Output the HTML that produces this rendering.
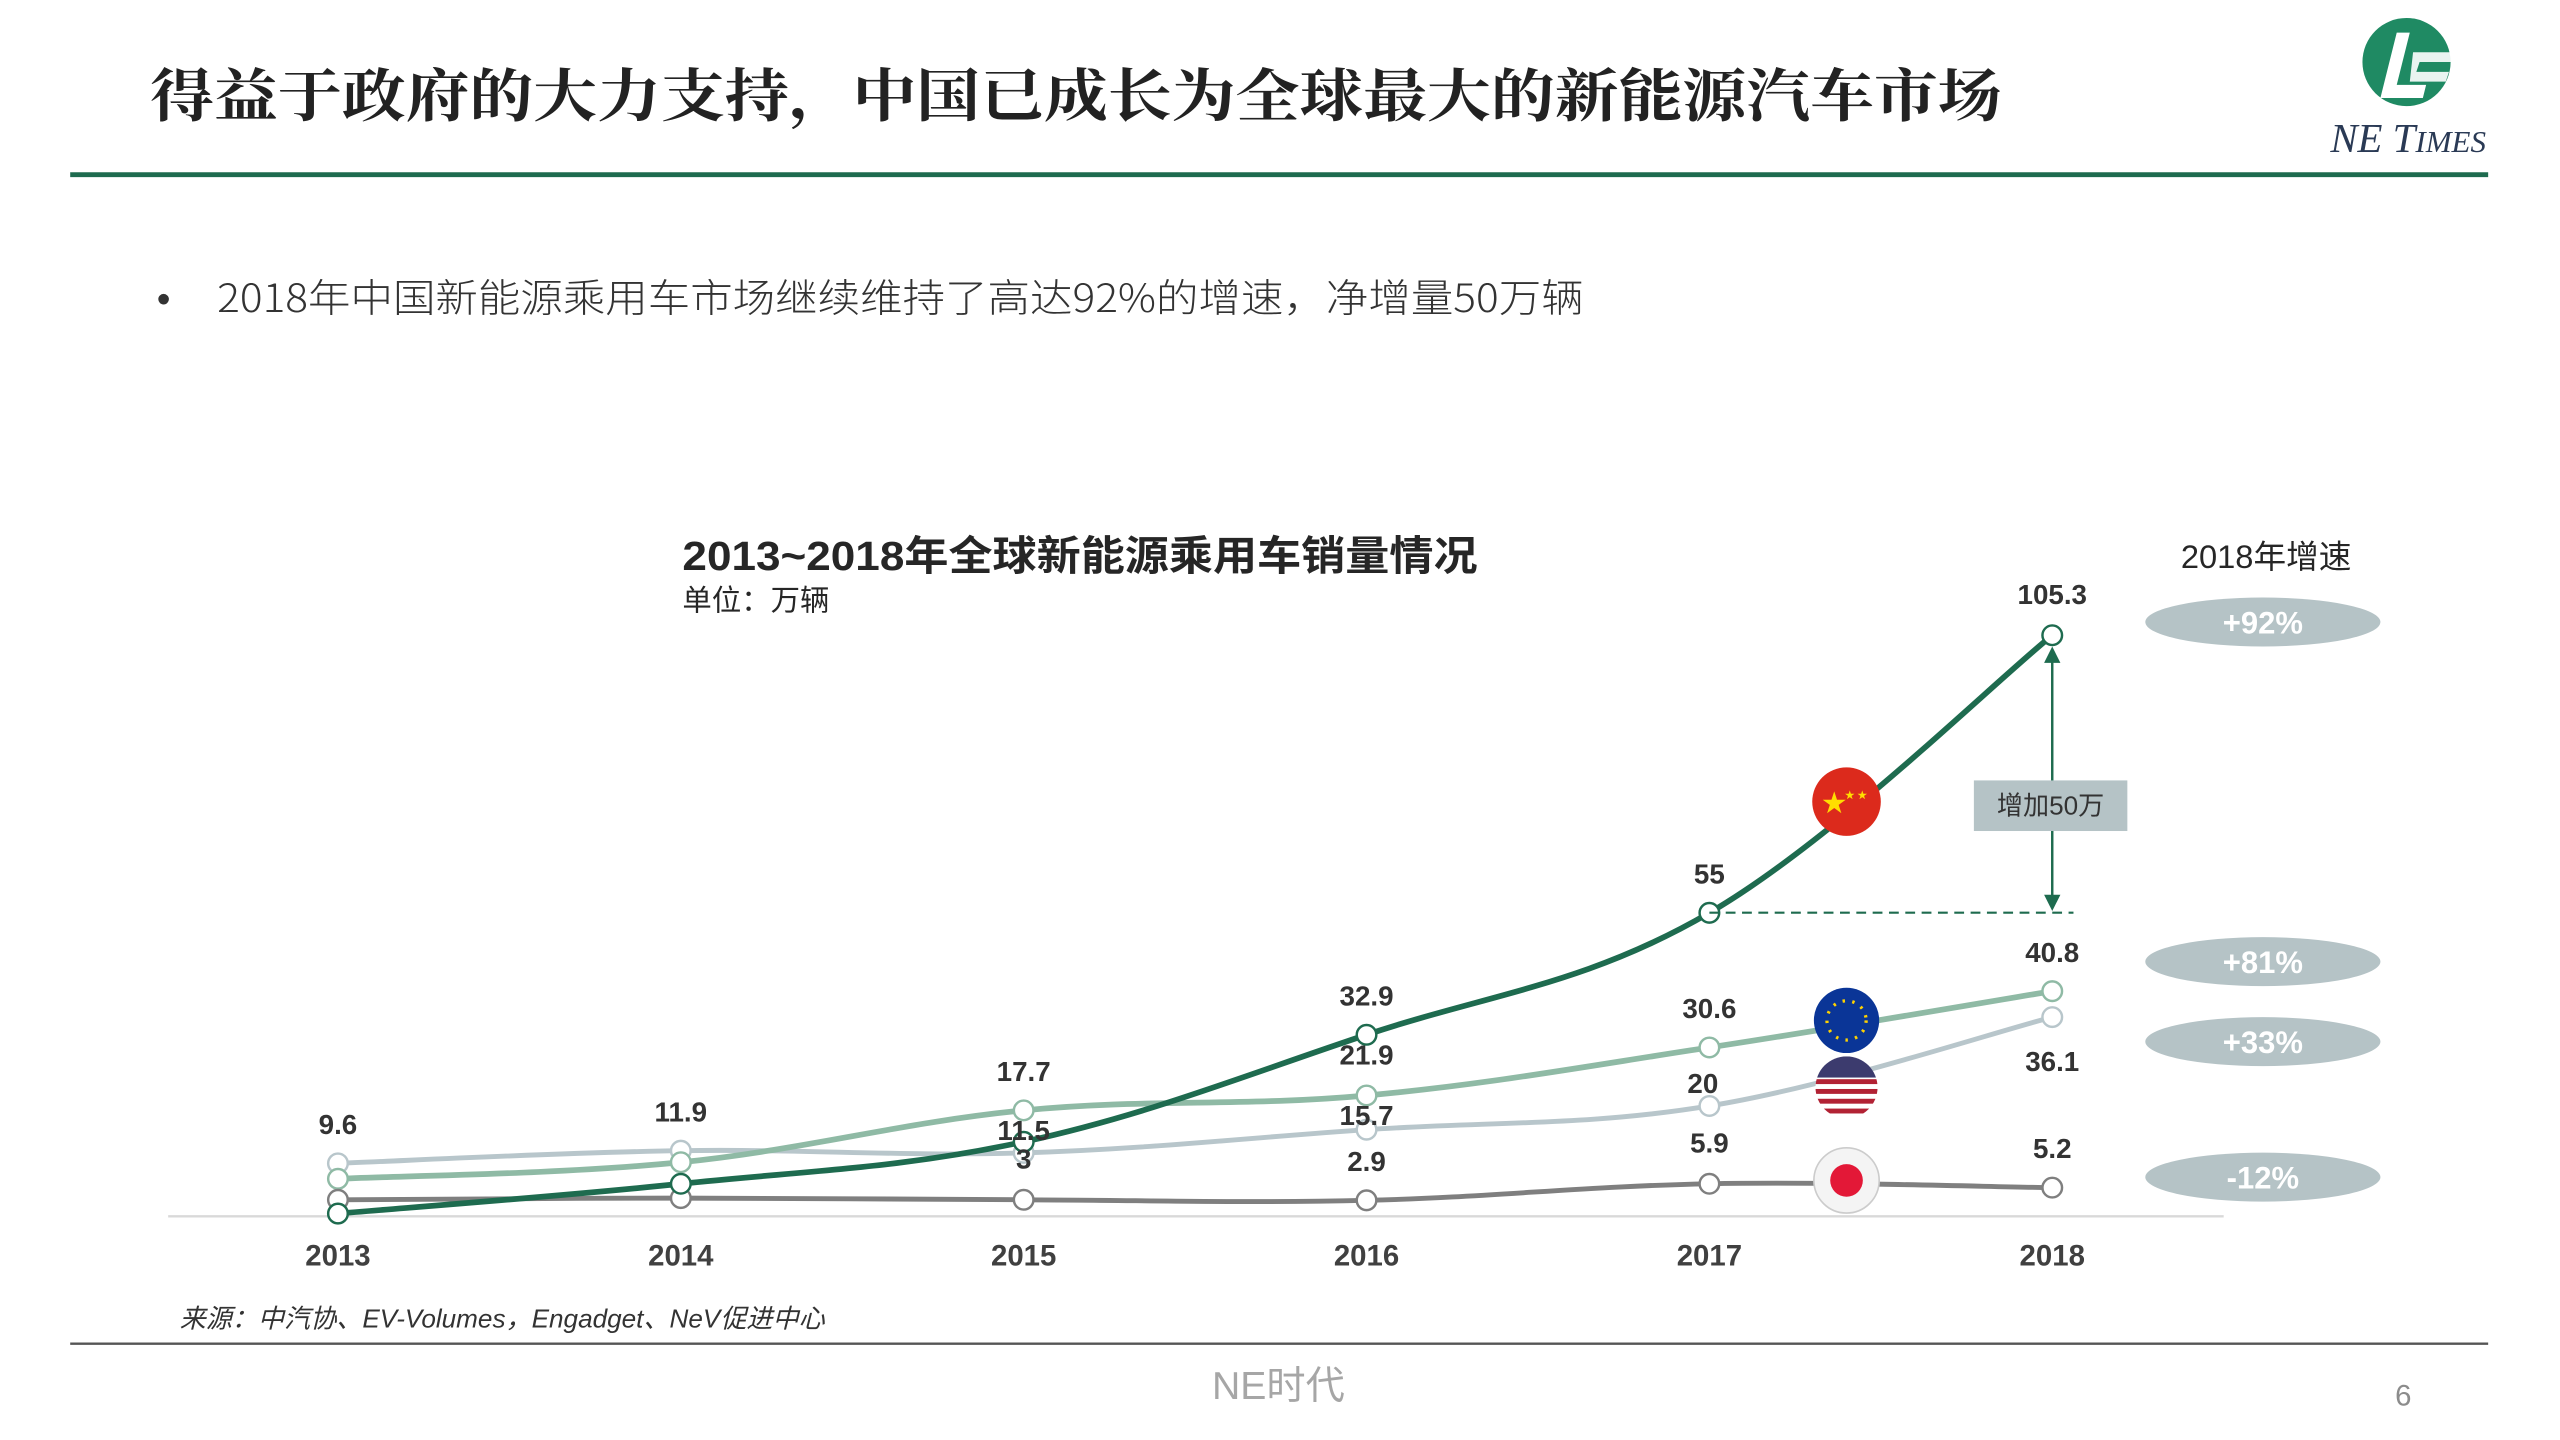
<!DOCTYPE html>
<html><head><meta charset="utf-8"><style>
html,body{margin:0;padding:0;background:#fff;}
svg{display:block;}
text{font-family:"Liberation Sans","Noto Sans CJK SC",sans-serif;}
</style></head><body>
<svg id="chart" width="2560" height="1440" viewBox="0 0 1568 882" xmlns="http://www.w3.org/2000/svg">
<rect width="1568" height="882" fill="#fff"/>
<text x="92" y="71" font-size="35" font-weight="bold" fill="#222" style="font-family:'Noto Serif CJK SC',serif" textLength="1134" lengthAdjust="spacingAndGlyphs">得益于政府的大力支持，中国已成长为全球最大的新能源汽车市场</text>
<g>
<circle cx="1474" cy="38" r="27" fill="#1f8a63"/>
<path d="M1458 60 L1468 20 L1476 20 L1468 52 L1486 52 L1484 60 Z" fill="#fff"/>
<path d="M1478 32 L1504 32 L1502 38 L1482 38 L1480 44 L1500 44 L1498 50 L1476 50 Z" fill="#fff" opacity="0.9"/>
<text x="1475" y="93" font-size="25" font-style="italic" fill="#2a3a55" text-anchor="middle" style="font-family:'Liberation Serif',serif">NE T<tspan font-size="19">IMES</tspan></text>
</g>
<line x1="43" y1="107" x2="1524" y2="107" stroke="#1e6b4f" stroke-width="3"/>
<text x="96" y="191" font-size="24" fill="#333">•</text>
<text x="133" y="191" font-size="24" fill="#333" font-weight="300" style="font-family:'Noto Sans CJK SC',sans-serif" textLength="837" lengthAdjust="spacingAndGlyphs">2018年中国新能源乘用车市场继续维持了高达92%的增速，净增量50万辆</text>
<text x="418" y="349" font-size="25" font-weight="bold" fill="#262626" textLength="487" lengthAdjust="spacingAndGlyphs">2013~2018年全球新能源乘用车销量情况</text>
<text x="418" y="374" font-size="18" fill="#262626">单位：万辆</text>
<text x="1388" y="348" font-size="20" fill="#262626" text-anchor="middle">2018年增速</text>
<line x1="103" y1="745" x2="1362" y2="745" stroke="#d9d9d9" stroke-width="1.5"/>
<g id="xticks"></g>
<g id="series"></g>
<g id="labels"></g>
<g>
<line x1="1047" y1="559" x2="1270" y2="559" stroke="#1e6b4f" stroke-width="1.3" stroke-dasharray="6,4"/>
<line x1="1257" y1="400" x2="1257" y2="550" stroke="#1e6b4f" stroke-width="1.5"/>
<path d="M1252 406 L1257 396 L1262 406 Z" fill="#1e6b4f"/>
<path d="M1252 548 L1257 558 L1262 548 Z" fill="#1e6b4f"/>
<rect x="1209" y="478" width="94" height="31" fill="#b5c3c6"/>
<text x="1256" y="499" font-size="16" fill="#333" text-anchor="middle">增加50万</text>
</g>
<g id="flags">
<g><circle cx="1131" cy="491" r="21" fill="#dc2a1c"/><text x="1116" y="497" font-size="15" fill="#ffde00">★</text><text x="1130" y="489" font-size="6" fill="#ffde00">★ ★</text></g>
<g><circle cx="1131" cy="625" r="20" fill="#0a3597"/><circle cx="1131" cy="625" r="12" fill="none" stroke="#ffd200" stroke-width="2" stroke-dasharray="1.5,4.5"/></g>
<g><clipPath id="uc"><circle cx="1131" cy="666" r="19"/></clipPath><g clip-path="url(#uc)"><rect x="1110" y="647" width="42" height="38" fill="#fff"/><rect x="1110" y="661" width="42" height="3" fill="#b22234"/><rect x="1110" y="667" width="42" height="3" fill="#b22234"/><rect x="1110" y="673" width="42" height="3" fill="#b22234"/><rect x="1110" y="679" width="42" height="3" fill="#b22234"/><rect x="1110" y="647" width="42" height="13" fill="#3c3b6e"/></g></g>
<g><circle cx="1131" cy="723" r="20" fill="#f4f4f4" stroke="#ccc"/><circle cx="1131" cy="723" r="10" fill="#e31837"/></g>
</g>
<g id="pills"></g>
<text x="110" y="813" font-size="16" font-style="italic" fill="#333">来源：中汽协、EV-Volumes，Engadget、NeV促进中心</text>
<line x1="43" y1="823" x2="1524" y2="823" stroke="#555" stroke-width="1.5"/>
<text x="783" y="857" font-size="24" fill="#a6a6a6" text-anchor="middle">NE时代</text>
<text x="1472" y="861" font-size="18" fill="#8c8c8c" text-anchor="middle">6</text>
</svg>
<script>
const years = ['2013','2014','2015','2016','2017','2018'];
const seriesNames = ['usa','europe','japan','china'];
const china = [0.5, 5.9, 13.5, 32.9, 55, 105.3];
const europe = [6.8, 9.8, 19.2, 21.9, 30.6, 40.8];
const usa = [9.6, 11.9, 11.5, 15.7, 20, 36.1];
const japan = [3.0, 3.3, 3, 2.9, 5.9, 5.2];
const chinaLabels = ['', '', '', '32.9', '55', '105.3'];
const europeLabels = ['', '', '17.7', '21.9', '30.6', '40.8'];
const usaLabels = ['9.6', '11.9', '11.5', '15.7', '20', '36.1'];
const japanLabels = ['', '', '3', '2.9', '5.9', '5.2'];
const growthLabels = ['+92%', '+81%', '+33%', '-12%'];

const NS = 'http://www.w3.org/2000/svg';
function xPos(i){ return 207 + i*210; }
function yPos(v){ return 745 - v*3.38; }
function mk(tag, attrs, parent){ const e=document.createElementNS(NS,tag); for(const k in attrs) e.setAttribute(k,attrs[k]); parent.appendChild(e); return e; }

const xt = document.getElementById('xticks');
years.forEach((y,i)=>{
  const t = mk('text',{x:xPos(i),y:775,'font-size':18,'font-weight':'bold',fill:'#404040','text-anchor':'middle'},xt);
  
  
  t.textContent = y;
});

function smoothPath(vals){
  const p = vals.map((v,i)=>[xPos(i),yPos(v)]);
  let d = 'M'+p[0][0]+' '+p[0][1];
  for(let i=0;i<p.length-1;i++){
    const p0=p[Math.max(0,i-1)], p1=p[i], p2=p[i+1], p3=p[Math.min(p.length-1,i+2)];
    const t=0.18;
    const c1=[p1[0]+(p2[0]-p0[0])*t, p1[1]+(p2[1]-p0[1])*t];
    const c2=[p2[0]-(p3[0]-p1[0])*t, p2[1]-(p3[1]-p1[1])*t];
    d+=' C'+c1[0]+' '+c1[1]+' '+c2[0]+' '+c2[1]+' '+p2[0]+' '+p2[1];
  }
  return d;
}
const sg = document.getElementById('series');
const lg = document.getElementById('labels');
const cfg = {
  usa:{vals:usa, labels:usaLabels, color:'#b8c6cb', w:3},
  europe:{vals:europe, labels:europeLabels, color:'#8fbaa5', w:3.5},
  japan:{vals:japan, labels:japanLabels, color:'#7f7f7f', w:3},
  china:{vals:china, labels:chinaLabels, color:'#1e6b4f', w:3.5}
};
const labelOffsets = {usa:[-24,-24,-14,-9,-14,27], europe:[-24,-24,-24,-25,-24,-24], japan:[-24,-24,-25,-24,-25,-24], china:[-24,-24,-24,-24,-24,-25]};
const labelDx = {usa:[0,0,0,0,-4,0], europe:[0,0,0,0,0,0], japan:[0,0,0,0,0,0], china:[0,0,0,0,0,0]};
seriesNames.forEach(name=>{
  const c = cfg[name];
  const path = mk('path',{d:smoothPath(c.vals),fill:'none',stroke:c.color,'stroke-width':c.w},sg);
  
  
  c.vals.forEach((v,i)=>{
    const dot = mk('circle',{cx:xPos(i),cy:yPos(v),r:6,fill:'#fff',stroke:c.color,'stroke-width':1.5},sg);
    
    
    if(c.labels[i]){
      const t = mk('text',{x:xPos(i)+labelDx[name][i],y:yPos(v)+labelOffsets[name][i]+6,'font-size':17,'font-weight':'bold',fill:'#333','text-anchor':'middle'},lg);
      
      
      t.textContent = c.labels[i];
    }
  });
});
const pg = document.getElementById('pills');
const pillY = [381, 589, 638, 721];
growthLabels.forEach((g,i)=>{
  const e = mk('ellipse',{cx:1386,cy:pillY[i],rx:72,ry:15,fill:'#b5c3c6'},pg);
  
  
  const t = mk('text',{x:1386,y:pillY[i]+7,'font-size':19,'font-weight':'bold',fill:'#fff','text-anchor':'middle'},pg);
  
  
  t.textContent = g;
});
</script>
</body></html>
